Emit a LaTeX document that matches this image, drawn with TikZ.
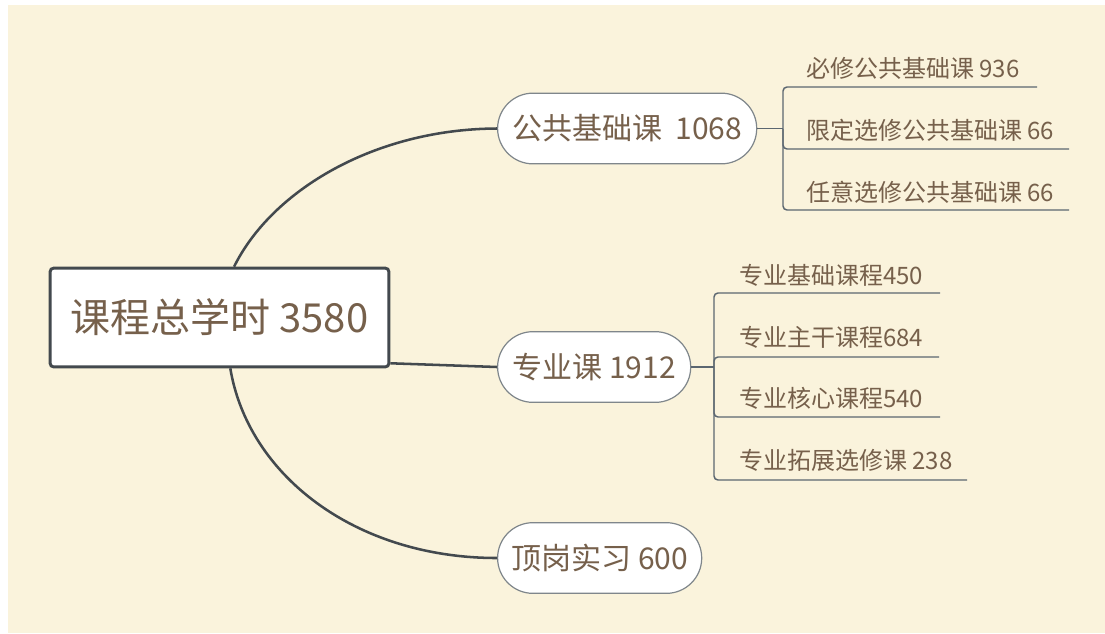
\documentclass[tikz,border=0pt]{standalone}
\usepackage{fontspec}
\newfontfamily\cjk{Noto Sans CJK SC}
\usetikzlibrary{shapes.misc}
\definecolor{paper}{HTML}{FAF3DC}
\definecolor{ink}{HTML}{76604B}
\definecolor{limbcol}{HTML}{43494E}
\definecolor{pillcol}{HTML}{7F868B}
\definecolor{twigcol}{HTML}{5B6670}
\begin{document}
\begin{tikzpicture}[x=0.75pt,y=-0.75pt,
  rootbox/.style={draw=limbcol, line width=2.2pt, fill=white, rounded corners=2.5pt,
    minimum width=254pt, minimum height=74pt, text=ink,
    font=\cjk\fontsize{30pt}{35pt}\selectfont},
  pill/.style={rounded rectangle, draw=pillcol, line width=0.9pt, fill=white,
    minimum height=53pt, anchor=west, text=ink, font=\cjk\fontsize{22.5pt}{27pt}\selectfont},
  leaf/.style={anchor=west, inner sep=0pt, text=ink, font=\cjk\fontsize{18pt}{21pt}\selectfont},
  limb/.style={draw=limbcol, line width=1.9pt},
  twig/.style={draw=twigcol, line width=1.1pt, rounded corners=3pt}]
  \useasboundingbox (0,0) rectangle (1105,633);
  \fill[white] (0,0) rectangle (1105,633);
  \fill[paper] (8,5) rectangle (1105,633);

  % centre and main branches
  \node[rootbox] (root) at (219.5,317.5) {课程总学时 3580};
  \node[pill, minimum width=201pt] (b1) at (497,128.5) {公共基础课\ \ 1068};
  \node[pill, minimum width=151.5pt] (b2) at (497,367) {专业课 1912};
  \node[pill, minimum width=159.75pt] (b3) at (497,558) {顶岗实习 600};
  \draw[limb] (root.74) .. controls (272,190) and (375,129) .. (b1.west);
  \draw[limb] (root.-15) -- (b2.west);
  \draw[limb] (root.-78) .. controls (248,475) and (355,558) .. (b3.west);

  % leaves of b1
  \node[leaf] (l11) at (806,68) {必修公共基础课 936};
  \node[leaf] (l12) at (806,130) {限定选修公共基础课 66};
  \node[leaf] (l13) at (806,192) {任意选修公共基础课 66};
  \coordinate (j1) at (783,128.5);
  \coordinate (e11) at (1037,87);
  \coordinate (e12) at (1069,149);
  \coordinate (e13) at (1069,210);
  \draw[twig] (b1.east) -- (j1);
  \draw[twig] (j1) |- (e11);
  \draw[twig] (j1) |- (e12);
  \draw[twig] (j1) |- (e13);

  % leaves of b2
  \node[leaf] (l21) at (739,275) {专业基础课程450};
  \node[leaf] (l22) at (739,337) {专业主干课程684};
  \node[leaf] (l23) at (739,398) {专业核心课程540};
  \node[leaf] (l24) at (739,460) {专业拓展选修课 238};
  \coordinate (j2) at (714,367);
  \coordinate (e21) at (940,293);
  \coordinate (e22) at (939,357);
  \coordinate (e23) at (940,417);
  \coordinate (e24) at (967,480);
  \draw[twig] (b2.east) -- (j2);
  \draw[twig] (j2) |- (e21);
  \draw[twig] (j2) |- (e22);
  \draw[twig] (j2) |- (e23);
  \draw[twig] (j2) |- (e24);

\end{tikzpicture}
\end{document}
